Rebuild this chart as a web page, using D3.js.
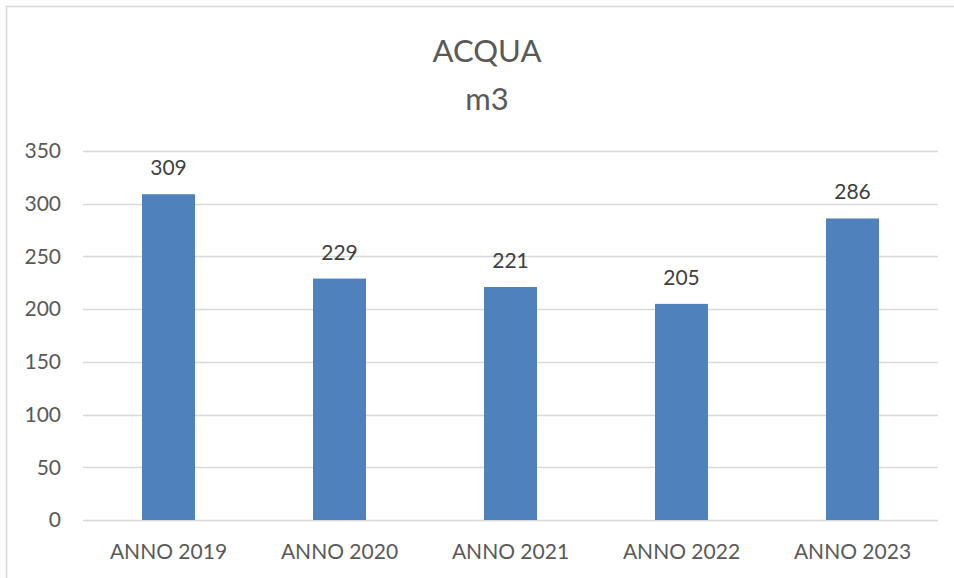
<!DOCTYPE html>
<html>
<head>
<meta charset="utf-8">
<script src="https://cdn.jsdelivr.net/npm/d3@7"></script>
<style>
  body { margin: 0; background: #fff; }
  svg { font-family: Lato, "Open Sans", sans-serif; }
</style>
</head>
<body>
<script>
var width = 954,
    height = 578;

// data
var categories = ["ANNO 2019", "ANNO 2020", "ANNO 2021", "ANNO 2022", "ANNO 2023"];
var values = [309, 229, 221, 205, 286];
var yTicks = [0, 50, 100, 150, 200, 250, 300, 350];
var titleLines = ["ACQUA", "m3"];

var margin = {left: 83, right: 16, top: 151, bottom: 58};

var svg = d3.select("body").append("svg")
    .attr("width", width)
    .attr("height", height);

// chart border (cropped on right and bottom)
svg.append("rect")
    .attr("x", 6.5).attr("y", 6.5)
    .attr("width", width + 10).attr("height", height + 10)
    .attr("fill", "#fff")
    .attr("stroke", "#d9d9d9")
    .attr("stroke-width", 1.5);

var x = d3.scaleBand()
    .domain(categories)
    .range([margin.left, width - margin.right])
    .paddingInner(0.69)
    .paddingOuter(0.345);

var y = d3.scaleLinear()
    .domain([0, 350])
    .range([height - margin.bottom, margin.top]);

// gridlines
svg.append("g")
  .selectAll("line")
  .data(yTicks)
  .enter().append("line")
    .attr("x1", margin.left)
    .attr("x2", width - margin.right)
    .attr("y1", function(d) { return Math.round(y(d)) + 0.5; })
    .attr("y2", function(d) { return Math.round(y(d)) + 0.5; })
    .attr("stroke", "#d9d9d9")
    .attr("stroke-width", 1.5);

// y labels
svg.append("g")
  .selectAll("text")
  .data(yTicks)
  .enter().append("text")
    .attr("x", 61)
    .attr("y", function(d) { return y(d); })
    .attr("dy", "0.35em")
    .attr("text-anchor", "end")
    .attr("fill", "#595959")
    .attr("font-size", 21)
    .text(function(d) { return d; });

// bars
svg.append("g")
  .selectAll("rect")
  .data(values)
  .enter().append("rect")
    .attr("x", function(d, i) { return x(categories[i]); })
    .attr("y", function(d) { return y(d); })
    .attr("width", x.bandwidth())
    .attr("height", function(d) { return y(0) - y(d); })
    .attr("fill", "#4f81bd");

// value labels
svg.append("g")
  .selectAll("text")
  .data(values)
  .enter().append("text")
    .attr("x", function(d, i) { return x(categories[i]) + x.bandwidth() / 2; })
    .attr("y", function(d) { return y(d) - 19; })
    .attr("text-anchor", "middle")
    .attr("fill", "#404040")
    .attr("font-size", 21)
    .text(function(d) { return d; });

// x labels
svg.append("g")
  .selectAll("text")
  .data(categories)
  .enter().append("text")
    .attr("x", function(d) { return x(d) + x.bandwidth() / 2; })
    .attr("y", y(0) + 39)
    .attr("text-anchor", "middle")
    .attr("fill", "#595959")
    .attr("font-size", 21)
    .text(function(d) { return d; });

// title
svg.append("g")
  .selectAll("text")
  .data(titleLines)
  .enter().append("text")
    .attr("x", 487)
    .attr("y", function(d, i) { return 62 + i * 48; })
    .attr("text-anchor", "middle")
    .attr("fill", "#595959")
    .attr("font-size", 31)
    .text(function(d) { return d; });
</script>
</body>
</html>
